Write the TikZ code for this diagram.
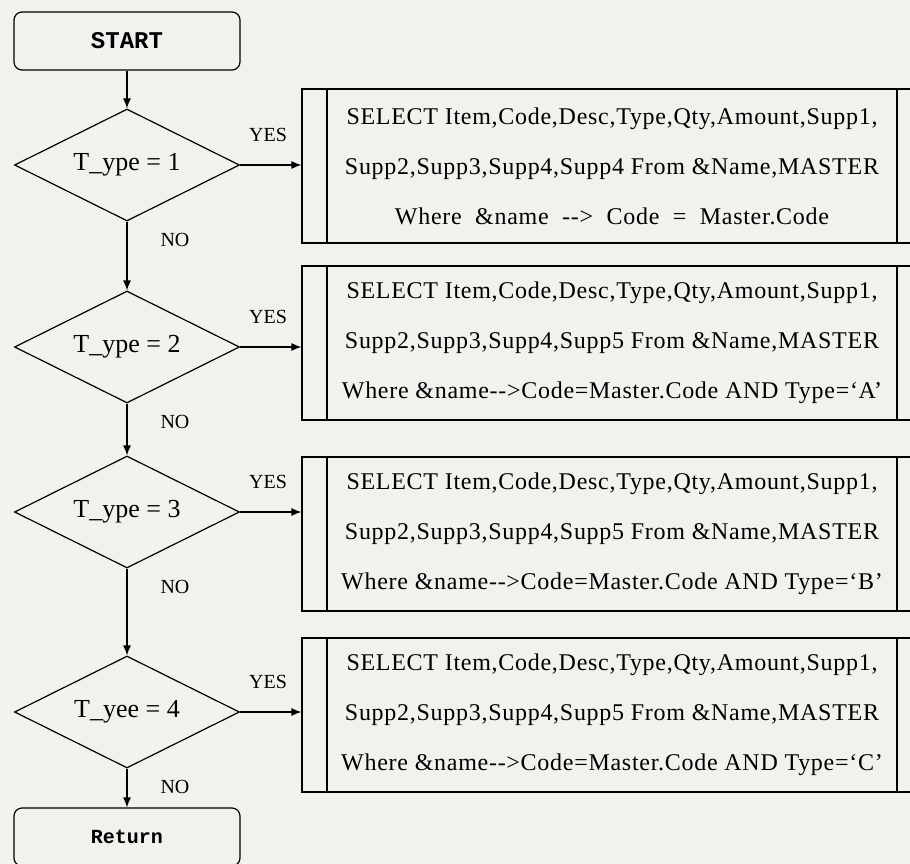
\documentclass[tikz,border=0pt]{standalone}
\usepackage{fontspec}
\setmainfont{Liberation Serif}
\setmonofont{Liberation Mono}
\newfontfamily\sqlfamily[LetterSpace=3]{Liberation Serif}
\usetikzlibrary{shapes.geometric,arrows.meta}
\definecolor{paper}{RGB}{242,241,238}
\tikzset{
  term/.style={draw,rounded corners=8pt,minimum width=226pt,minimum height=58pt,
    font=\ttfamily\bfseries\fontsize{24}{26}\selectfont},
  decision/.style={draw,diamond,aspect=2,inner sep=0pt,minimum width=225pt,
    minimum height=112pt,font=\fontsize{26}{28}\selectfont},
  sqlbox/.style={draw,minimum width=620pt,minimum height=154pt,align=center,
    font=\sqlfamily\fontsize{24}{50}\selectfont,
    path picture={\draw ([xshift=25pt]path picture bounding box.north west) -- ([xshift=25pt]path picture bounding box.south west)
      ([xshift=-25pt]path picture bounding box.north east) -- ([xshift=-25pt]path picture bounding box.south east);}},
  lbl/.style={font=\fontsize{20}{22}\selectfont}
}
\begin{document}
\begin{tikzpicture}[x=1pt,y=-1pt,line width=1.2pt,>={Latex[length=10pt,width=8pt]}]
    \fill[paper] (0,0) rectangle (910,864);
    \useasboundingbox (0,0) rectangle (910,864);
    \node[term] (start) at (127,41) {START};
    \node[term,font=\ttfamily\bfseries\fontsize{20}{22}\selectfont] (ret) at (127,837) {Return};
    % one decision and its query per type
    \foreach \i/\yy/\by/\cond/\lineb/\linec in {
        1/165/166/{T\_ype = 1}/{Supp2,Supp3,Supp4,Supp4 From \&Name,MASTER}/{Where\ \ \&name\ \ -{}->\ \ Code\ \ =\ \ Master.Code},
        2/347/343/{T\_ype = 2}/{Supp2,Supp3,Supp4,Supp5 From \&Name,MASTER}/{Where \&name-{}->Code=Master.Code AND Type=‘A’},
        3/512/534/{T\_ype = 3}/{Supp2,Supp3,Supp4,Supp5 From \&Name,MASTER}/{Where \&name-{}->Code=Master.Code AND Type=‘B’},
        4/712/715/{T\_yee = 4}/{Supp2,Supp3,Supp4,Supp5 From \&Name,MASTER}/{Where \&name-{}->Code=Master.Code AND Type=‘C’}} {
        \node[decision] (d\i) at (127,\yy) {\cond};
        \node[sqlbox] (b\i) at (612,\by) {SELECT Item,Code,Desc,Type,Qty,Amount,Supp1,\\\lineb\\\linec};
        \draw[->] (d\i) -- (d\i -| b\i.west);
        \node[lbl] (yes\i) at (268,\yy-30) {YES};
        \node[lbl] (no\i) at (175,\yy+75) {NO};
    }
    \draw[->] (start) -- (d1);
    \draw[->] (d1) -- (d2);
    \draw[->] (d2) -- (d3);
    \draw[->] (d3) -- (d4);
    \draw[->] (d4) -- (ret);
\end{tikzpicture}
\end{document}
